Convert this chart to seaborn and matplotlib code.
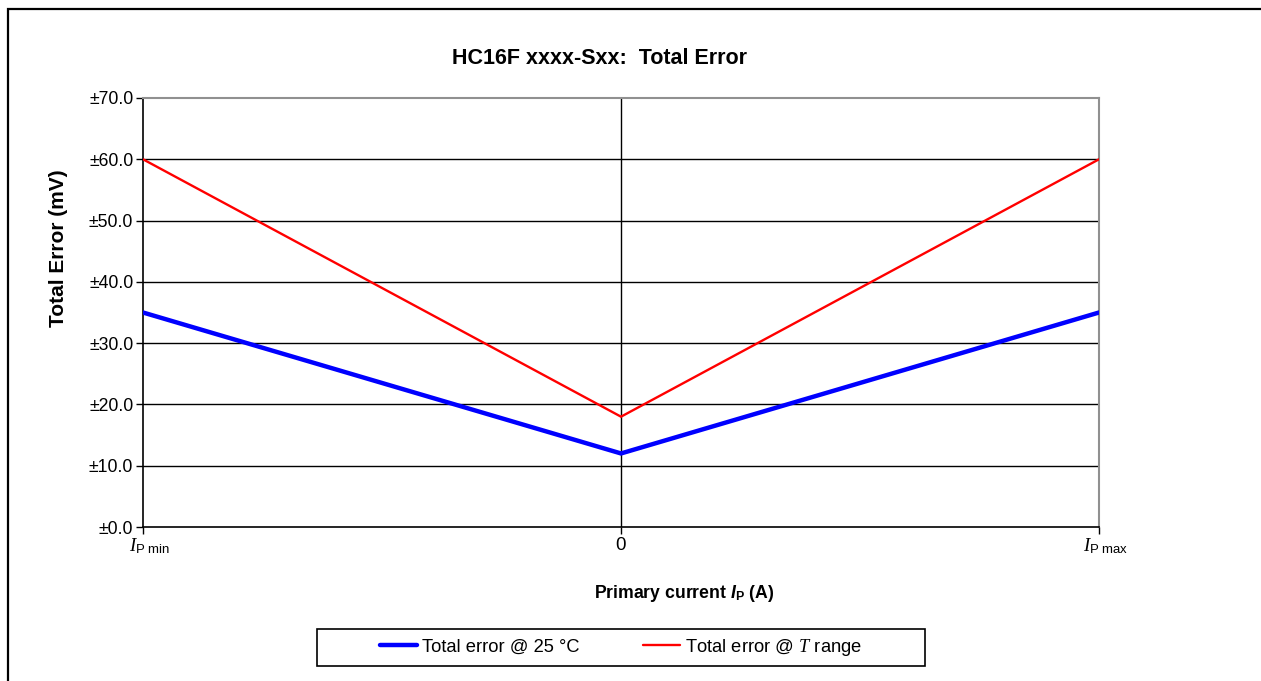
import numpy as np
import pandas as pd
import matplotlib
matplotlib.use("Agg")
import matplotlib.pyplot as plt
import seaborn as sns
from matplotlib.patches import Rectangle
from matplotlib.lines import Line2D

# ---- data ----
x_pos = [-1, 0, 1]
x_labels = [r"$\quad\mathit{I}_{\mathrm{P\ min}}$", "0", r"$\quad\mathit{I}_{\mathrm{P\ max}}$"]
err_25c = [35, 12, 35]
err_trange = [60, 18, 60]
series_names = ["Total error @ 25 °C", r"Total error @ $\mathit{T}$ range"]
y_ticks = [0, 10, 20, 30, 40, 50, 60, 70]

sns.set_style("white")
plt.rcParams['font.family'] = ['Liberation Sans', 'DejaVu Sans']
plt.rcParams['text.color'] = 'black'
plt.rcParams['xtick.color'] = 'black'
plt.rcParams['ytick.color'] = 'black'
plt.rcParams['axes.labelcolor'] = 'black'
plt.rcParams['mathtext.fontset'] = 'custom'
plt.rcParams['mathtext.rm'] = 'Liberation Sans'
plt.rcParams['mathtext.it'] = 'Liberation Serif:italic'
plt.rcParams['mathtext.bf'] = 'Liberation Sans:bold'
plt.rcParams['mathtext.bfit'] = 'Liberation Sans:bold:italic'

df = pd.DataFrame({
    "x": x_pos * 2,
    "y": err_25c + err_trange,
    "series": [series_names[0]] * 3 + [series_names[1]] * 3,
})

W, H = 1261, 681
fig = plt.figure(figsize=(W / 100, H / 100), dpi=100)
ax = fig.add_axes([143 / W, 1 - 527 / H, (1099 - 143) / W, (527 - 98) / H])

sns.lineplot(data=df, x="x", y="y", hue="series", palette=["#0000ff", "#ff0000"],
             ax=ax, legend=False, sort=False)
ax.lines[0].set_linewidth(3.2)
ax.lines[1].set_linewidth(1.7)
for ln in ax.lines:
    ln.set_zorder(3)
    ln.set_solid_joinstyle('miter')

ax.set_xlim(-1, 1)
ax.set_ylim(0, 70)
ax.set_yticks(y_ticks)
ax.set_yticklabels([f"±{v:.1f}" for v in y_ticks], fontsize=12.7)
ax.set_xticks(x_pos)
ax.set_xticklabels(x_labels, fontsize=13.5)
ax.set_xlabel("")
ax.set_ylabel("")

# grid
for v in y_ticks[1:-1]:
    ax.axhline(v, color="black", lw=1.0, zorder=1)
ax.axvline(0, color="black", lw=1.0, zorder=1)

for s in ["left", "bottom"]:
    ax.spines[s].set_color("black")
    ax.spines[s].set_linewidth(1.2)
for s in ["top", "right"]:
    ax.spines[s].set_color("#909090")
    ax.spines[s].set_linewidth(1.5)
ax.tick_params(axis="both", direction="out", length=5, width=1.0, colors="black",
               left=True, bottom=True, pad=2)

# texts
fig.text(599 / W, 1 - 58 / H, "HC16F xxxx-Sxx:  Total Error", ha="center", va="center",
         fontsize=15.5, fontweight="bold")
fig.text(59 / W, 1 - 248 / H, "Total Error (mV)", rotation=90, ha="center", va="center",
         fontsize=15, fontweight="bold")
fig.text(684 / W, 1 - 593 / H, r"Primary current $\mathbfit{I}_{\mathbf{P}}$ (A)",
         ha="center", va="center", fontsize=12.7, fontweight="bold")

# legend
handles = [Line2D([], [], color="#0000ff", lw=3.2), Line2D([], [], color="#ff0000", lw=1.7)]
fig.legend(handles, series_names, loc="center", bbox_to_anchor=(621 / W, 1 - 647 / H),
           ncol=2, frameon=False, fontsize=13.2, handlelength=2.0, handletextpad=0.27,
           columnspacing=3.5)
fig.patches.append(Rectangle((317 / W, 1 - 666 / H), (925 - 317) / W, (666 - 629) / H,
                             transform=fig.transFigure, fill=False, edgecolor="black", lw=1.2))
# outer frame
fig.patches.append(Rectangle((8 / W, -0.1), 1.2, 1.1 - 9 / H,
                             transform=fig.transFigure, fill=False, edgecolor="black", lw=1.6))

fig.savefig("out.png", dpi=100)
